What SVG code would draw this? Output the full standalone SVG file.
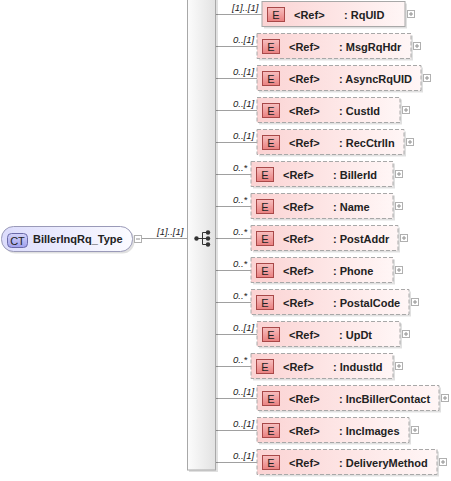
<svg xmlns="http://www.w3.org/2000/svg" width="451" height="481" viewBox="0 0 451 481">
<defs>
<linearGradient id="gBox" x1="0" y1="0" x2="1" y2="0"><stop offset="0" stop-color="#fbd3d3"/><stop offset="1" stop-color="#fff6f6"/></linearGradient>
<linearGradient id="gE" x1="0" y1="0" x2="0" y2="1"><stop offset="0" stop-color="#f8c0c0"/><stop offset="1" stop-color="#e98080"/></linearGradient>
<linearGradient id="gCT" x1="0" y1="0" x2="1" y2="0"><stop offset="0" stop-color="#dcdcfc"/><stop offset="1" stop-color="#fbfbff"/></linearGradient>
<linearGradient id="gCTi" x1="0" y1="0" x2="0" y2="1"><stop offset="0" stop-color="#d4d4fa"/><stop offset="1" stop-color="#a0a0ec"/></linearGradient>
<linearGradient id="gSeq" x1="0" y1="0" x2="1" y2="0"><stop offset="0" stop-color="#fcfcfc"/><stop offset="1" stop-color="#e2e2e2"/></linearGradient>
</defs>
<style>
.shadow{fill:#000;opacity:0.12}
.box{fill:url(#gBox);stroke:#a8a8a8;stroke-width:1}
.opt{stroke-dasharray:4 2}
.eic{fill:url(#gE);stroke:#a84848;stroke-width:1}
.et{font-family:"Liberation Sans",Arial,sans-serif;font-size:11px;fill:#222;text-anchor:middle}
.bt{font-family:"Liberation Sans",Arial,sans-serif;font-size:11px;font-weight:bold;fill:#222}
.lbl{font-family:"Liberation Sans",Arial,sans-serif;font-size:9.5px;font-style:italic;fill:#222}
.tg{fill:#fff;stroke:#b0b0b0;stroke-width:1}
.tgl{stroke:#909090;stroke-width:1}
.con{stroke:#a0a0a0;stroke-width:1;fill:none}
</style>

<g id="connectors">
<line class="con" x1="141.5" y1="238.5" x2="187" y2="238.5"/>
<line class="con" x1="216" y1="14.5" x2="262" y2="14.5"/>
<line class="con" x1="216" y1="46.5" x2="257" y2="46.5"/>
<line class="con" x1="216" y1="78.5" x2="257" y2="78.5"/>
<line class="con" x1="216" y1="110.5" x2="257" y2="110.5"/>
<line class="con" x1="216" y1="142.5" x2="257" y2="142.5"/>
<line class="con" x1="216" y1="174.5" x2="251" y2="174.5"/>
<line class="con" x1="216" y1="206.5" x2="251" y2="206.5"/>
<line class="con" x1="216" y1="238.5" x2="251" y2="238.5"/>
<line class="con" x1="216" y1="270.5" x2="251" y2="270.5"/>
<line class="con" x1="216" y1="302.5" x2="251" y2="302.5"/>
<line class="con" x1="216" y1="334.5" x2="257" y2="334.5"/>
<line class="con" x1="216" y1="366.5" x2="251" y2="366.5"/>
<line class="con" x1="216" y1="398.5" x2="257" y2="398.5"/>
<line class="con" x1="216" y1="430.5" x2="257" y2="430.5"/>
<line class="con" x1="216" y1="462.5" x2="257" y2="462.5"/>
<text class="lbl" x="157" y="235">[1]..[1]</text>
<text class="lbl" x="232" y="11">[1]..[1]</text>
<text class="lbl" x="233" y="43">0..[1]</text>
<text class="lbl" x="233" y="75">0..[1]</text>
<text class="lbl" x="233" y="107">0..[1]</text>
<text class="lbl" x="233" y="139">0..[1]</text>
<text class="lbl" x="233" y="171">0..*</text>
<text class="lbl" x="233" y="203">0..*</text>
<text class="lbl" x="233" y="235">0..*</text>
<text class="lbl" x="233" y="267">0..*</text>
<text class="lbl" x="233" y="299">0..*</text>
<text class="lbl" x="233" y="331">0..[1]</text>
<text class="lbl" x="233" y="363">0..*</text>
<text class="lbl" x="233" y="395">0..[1]</text>
<text class="lbl" x="233" y="427">0..[1]</text>
<text class="lbl" x="233" y="459">0..[1]</text>
</g>

<g id="BillerInqRq_Type">
<rect class="shadow" x="3.5" y="228.5" width="131" height="25" rx="12"/>
<rect x="1.5" y="226.5" width="131" height="25" rx="12" fill="url(#gCT)" stroke="#9a9ab8"/>
<rect x="7.5" y="233.5" width="20" height="14" rx="4" fill="url(#gCTi)" stroke="#6a6aa8"/>
<text class="et" x="17.5" y="244.5">CT</text>
<text class="bt" x="33" y="243">BillerInqRq_Type</text>
<rect class="tg" x="134.5" y="235.5" width="7" height="7"/>
<line class="tgl" x1="136" y1="239" x2="140" y2="239"/>
</g>

<g id="sequence">
<rect class="shadow" x="189" y="-3" width="29" height="475"/>
<rect x="187.5" y="-3" width="28" height="473" fill="url(#gSeq)" stroke="#a8a8a8"/>
<g stroke="#333" fill="#333">
<line x1="196.5" y1="238.5" x2="202.5" y2="238.5"/>
<line x1="202.5" y1="232.5" x2="202.5" y2="244.5"/>
<line x1="202.5" y1="232.5" x2="207.5" y2="232.5"/>
<line x1="202.5" y1="244.5" x2="207.5" y2="244.5"/>
<line x1="202.5" y1="238.5" x2="207.5" y2="238.5"/>
<circle cx="196.5" cy="238.5" r="2.2" stroke="none"/>
<circle cx="208" cy="232.5" r="2.2" stroke="none"/>
<circle cx="208" cy="238.5" r="2.2" stroke="none"/>
<circle cx="208" cy="244.5" r="2.2" stroke="none"/>
</g>
</g>

<g id="RqUID">
<rect class="shadow" x="264" y="3.5" width="143" height="25"/>
<rect class="box" x="262" y="1.5" width="143" height="25"/>
<rect class="eic" x="267.5" y="7.5" width="17" height="14"/>
<text class="et" x="276" y="18.5">E</text>
<text class="bt" x="294" y="18.5">&lt;Ref&gt;</text>
<text class="bt" x="344" y="18.5">: RqUID</text>
<rect class="tg" x="407.5" y="10.5" width="7" height="7"/>
<path class="tgl" d="M409 14h4M411 12v4"/>
</g>

<g id="MsgRqHdr">
<rect class="shadow" x="259" y="35.5" width="154" height="25"/>
<rect class="box opt" x="257" y="33.5" width="154" height="25"/>
<rect class="eic" x="262.5" y="39.5" width="17" height="14"/>
<text class="et" x="271" y="50.5">E</text>
<text class="bt" x="289" y="50.5">&lt;Ref&gt;</text>
<text class="bt" x="339" y="50.5">: MsgRqHdr</text>
<rect class="tg" x="413.5" y="42.5" width="7" height="7"/>
<path class="tgl" d="M415 46h4M417 44v4"/>
</g>

<g id="AsyncRqUID">
<rect class="shadow" x="259" y="67.5" width="164" height="25"/>
<rect class="box opt" x="257" y="65.5" width="164" height="25"/>
<rect class="eic" x="262.5" y="71.5" width="17" height="14"/>
<text class="et" x="271" y="82.5">E</text>
<text class="bt" x="289" y="82.5">&lt;Ref&gt;</text>
<text class="bt" x="339" y="82.5">: AsyncRqUID</text>
<rect class="tg" x="423.5" y="74.5" width="7" height="7"/>
<path class="tgl" d="M425 78h4M427 76v4"/>
</g>

<g id="CustId">
<rect class="shadow" x="259" y="99.5" width="143" height="25"/>
<rect class="box opt" x="257" y="97.5" width="143" height="25"/>
<rect class="eic" x="262.5" y="103.5" width="17" height="14"/>
<text class="et" x="271" y="114.5">E</text>
<text class="bt" x="289" y="114.5">&lt;Ref&gt;</text>
<text class="bt" x="339" y="114.5">: CustId</text>
<rect class="tg" x="402.5" y="106.5" width="7" height="7"/>
<path class="tgl" d="M404 110h4M406 108v4"/>
</g>

<g id="RecCtrlIn">
<rect class="shadow" x="259" y="131.5" width="147" height="25"/>
<rect class="box opt" x="257" y="129.5" width="147" height="25"/>
<rect class="eic" x="262.5" y="135.5" width="17" height="14"/>
<text class="et" x="271" y="146.5">E</text>
<text class="bt" x="289" y="146.5">&lt;Ref&gt;</text>
<text class="bt" x="339" y="146.5">: RecCtrlIn</text>
<rect class="tg" x="406.5" y="138.5" width="7" height="7"/>
<path class="tgl" d="M408 142h4M410 140v4"/>
</g>

<g id="BillerId">
<rect class="shadow" x="253" y="163.5" width="142" height="25"/>
<rect class="box opt" x="251" y="161.5" width="142" height="25"/>
<rect class="eic" x="256.5" y="167.5" width="17" height="14"/>
<text class="et" x="265" y="178.5">E</text>
<text class="bt" x="283" y="178.5">&lt;Ref&gt;</text>
<text class="bt" x="333" y="178.5">: BillerId</text>
<rect class="tg" x="395.5" y="170.5" width="7" height="7"/>
<path class="tgl" d="M397 174h4M399 172v4"/>
</g>

<g id="Name">
<rect class="shadow" x="253" y="195.5" width="142" height="25"/>
<rect class="box opt" x="251" y="193.5" width="142" height="25"/>
<rect class="eic" x="256.5" y="199.5" width="17" height="14"/>
<text class="et" x="265" y="210.5">E</text>
<text class="bt" x="283" y="210.5">&lt;Ref&gt;</text>
<text class="bt" x="333" y="210.5">: Name</text>
<rect class="tg" x="395.5" y="202.5" width="7" height="7"/>
<path class="tgl" d="M397 206h4M399 204v4"/>
</g>

<g id="PostAddr">
<rect class="shadow" x="253" y="227.5" width="147" height="25"/>
<rect class="box opt" x="251" y="225.5" width="147" height="25"/>
<rect class="eic" x="256.5" y="231.5" width="17" height="14"/>
<text class="et" x="265" y="242.5">E</text>
<text class="bt" x="283" y="242.5">&lt;Ref&gt;</text>
<text class="bt" x="333" y="242.5">: PostAddr</text>
<rect class="tg" x="400.5" y="234.5" width="7" height="7"/>
<path class="tgl" d="M402 238h4M404 236v4"/>
</g>

<g id="Phone">
<rect class="shadow" x="253" y="259.5" width="142" height="25"/>
<rect class="box opt" x="251" y="257.5" width="142" height="25"/>
<rect class="eic" x="256.5" y="263.5" width="17" height="14"/>
<text class="et" x="265" y="274.5">E</text>
<text class="bt" x="283" y="274.5">&lt;Ref&gt;</text>
<text class="bt" x="333" y="274.5">: Phone</text>
<rect class="tg" x="395.5" y="266.5" width="7" height="7"/>
<path class="tgl" d="M397 270h4M399 268v4"/>
</g>

<g id="PostalCode">
<rect class="shadow" x="253" y="291.5" width="158" height="25"/>
<rect class="box opt" x="251" y="289.5" width="158" height="25"/>
<rect class="eic" x="256.5" y="295.5" width="17" height="14"/>
<text class="et" x="265" y="306.5">E</text>
<text class="bt" x="283" y="306.5">&lt;Ref&gt;</text>
<text class="bt" x="333" y="306.5">: PostalCode</text>
<rect class="tg" x="411.5" y="298.5" width="7" height="7"/>
<path class="tgl" d="M413 302h4M415 300v4"/>
</g>

<g id="UpDt">
<rect class="shadow" x="259" y="323.5" width="143" height="25"/>
<rect class="box opt" x="257" y="321.5" width="143" height="25"/>
<rect class="eic" x="262.5" y="327.5" width="17" height="14"/>
<text class="et" x="271" y="338.5">E</text>
<text class="bt" x="289" y="338.5">&lt;Ref&gt;</text>
<text class="bt" x="339" y="338.5">: UpDt</text>
<rect class="tg" x="402.5" y="330.5" width="7" height="7"/>
<path class="tgl" d="M404 334h4M406 332v4"/>
</g>

<g id="IndustId">
<rect class="shadow" x="253" y="355.5" width="142" height="25"/>
<rect class="box opt" x="251" y="353.5" width="142" height="25"/>
<rect class="eic" x="256.5" y="359.5" width="17" height="14"/>
<text class="et" x="265" y="370.5">E</text>
<text class="bt" x="283" y="370.5">&lt;Ref&gt;</text>
<text class="bt" x="333" y="370.5">: IndustId</text>
<rect class="tg" x="395.5" y="362.5" width="7" height="7"/>
<path class="tgl" d="M397 366h4M399 364v4"/>
</g>

<g id="IncBillerContact">
<rect class="shadow" x="259" y="387.5" width="182" height="25"/>
<rect class="box opt" x="257" y="385.5" width="182" height="25"/>
<rect class="eic" x="262.5" y="391.5" width="17" height="14"/>
<text class="et" x="271" y="402.5">E</text>
<text class="bt" x="289" y="402.5">&lt;Ref&gt;</text>
<text class="bt" x="339" y="402.5">: IncBillerContact</text>
<rect class="tg" x="441.5" y="394.5" width="7" height="7"/>
<path class="tgl" d="M443 398h4M445 396v4"/>
</g>

<g id="IncImages">
<rect class="shadow" x="259" y="419.5" width="152" height="25"/>
<rect class="box opt" x="257" y="417.5" width="152" height="25"/>
<rect class="eic" x="262.5" y="423.5" width="17" height="14"/>
<text class="et" x="271" y="434.5">E</text>
<text class="bt" x="289" y="434.5">&lt;Ref&gt;</text>
<text class="bt" x="339" y="434.5">: IncImages</text>
<rect class="tg" x="411.5" y="426.5" width="7" height="7"/>
<path class="tgl" d="M413 430h4M415 428v4"/>
</g>

<g id="DeliveryMethod">
<rect class="shadow" x="259" y="451.5" width="180" height="25"/>
<rect class="box opt" x="257" y="449.5" width="180" height="25"/>
<rect class="eic" x="262.5" y="455.5" width="17" height="14"/>
<text class="et" x="271" y="466.5">E</text>
<text class="bt" x="289" y="466.5">&lt;Ref&gt;</text>
<text class="bt" x="339" y="466.5">: DeliveryMethod</text>
<rect class="tg" x="439.5" y="458.5" width="7" height="7"/>
<path class="tgl" d="M441 462h4M443 460v4"/>
</g>
</svg>
